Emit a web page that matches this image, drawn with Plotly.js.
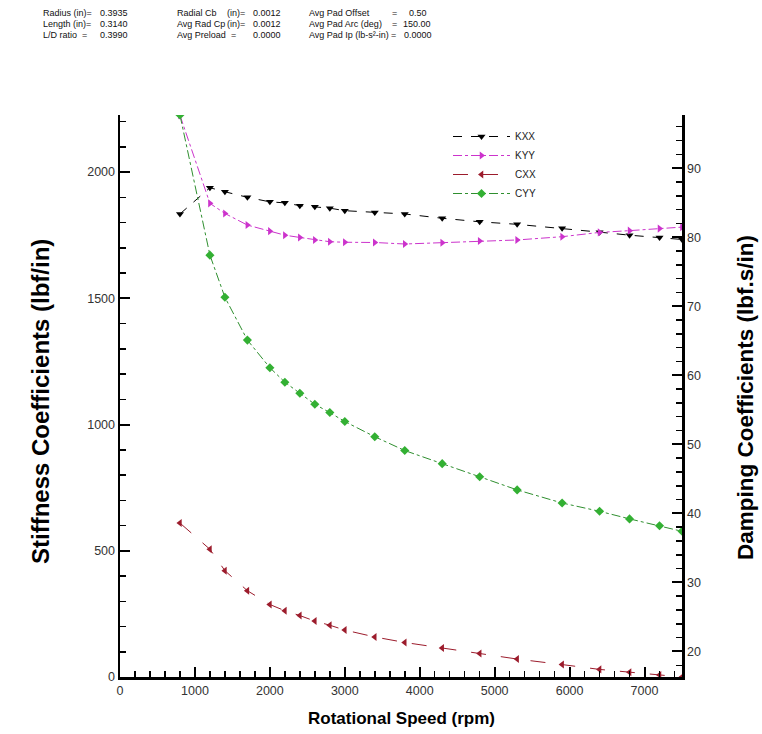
<!DOCTYPE html>
<html>
<head>
<meta charset="utf-8">
<script src="https://cdn.plot.ly/plotly-3.0.1.min.js"></script>
<style>html,body{margin:0;padding:0;background:#fff;}#chart{width:762px;height:734px;}</style>
</head>
<body>
<div id="chart"></div>
<script>
// Rotational speed (rpm)
const speed = [800,1200,1400,1700,2000,2200,2400,2600,2800,3000,3400,3800,4300,4800,5300,5900,6400,6800,7200,7500];
// Stiffness coefficients (lbf/in)
const kxx = [1834,1938,1922,1900,1882,1878,1867,1863,1857,1847,1840,1834,1817,1803,1793,1777,1762,1750,1741,1733];
const kyy = [2225,1876,1836,1790,1766,1750,1741,1731,1724,1722,1721,1715,1720,1727,1731,1744,1761,1768,1776,1782];
// Damping coefficients (lbf.s/in)
const cxx = [38.6,34.8,31.7,28.8,26.8,25.9,25.2,24.4,23.8,23.1,22.1,21.3,20.5,19.7,18.9,18.1,17.4,17.0,16.6,16.3];
const cyy = [97.7,77.4,71.3,65.1,61.1,59.0,57.4,55.8,54.6,53.3,51.1,49.1,47.2,45.3,43.4,41.5,40.3,39.2,38.2,37.4];

const seriesNames = ["KXX","KYY","CXX","CYY"];

const headNames = [
  ["Radius (in)=", "Length (in)=", "L/D ratio"],
  ["Radial Cb", "Avg Rad Cp", "Avg Preload"],
  ["Avg Pad Offset", "Avg Pad Arc (deg)", "Avg Pad Ip (lb-s\u00b2-in)"]
];
const headEq = [
  ["", "", "="],
  ["(in)=", "(in)=", "="],
  ["=", "=", "="]
];
const headValues = [
  ["0.3935", "0.3140", "0.3990"],
  ["0.0012", "0.0012", "0.0000"],
  ["0.50", "150.00", "0.0000"]
];

const L = 120, T = 115, W = 562, H = 562;
const px = x => (x - L) / W;
const py = y => (T + H - y) / H;

const FONT = "Liberation Sans, Arial, sans-serif";

const traces = [
  {x: speed, y: kxx, name: seriesNames[0], yaxis: "y", mode: "lines+markers",
   line: {color: "#000000", width: 1, dash: "dash"},
   marker: {symbol: "triangle-down", size: 7, color: "#000000"}},
  {x: speed, y: kyy, name: seriesNames[1], yaxis: "y", mode: "lines+markers",
   line: {color: "#cc33cc", width: 1, dash: "dashdot"},
   marker: {symbol: "triangle-right", size: 7, color: "#cc33cc"}},
  {x: speed, y: cxx, name: seriesNames[2], yaxis: "y2", mode: "lines+markers",
   line: {color: "#9c1c2c", width: 1, dash: "longdash"},
   marker: {symbol: "triangle-left", size: 7, color: "#9c1c2c"}},
  {x: speed, y: cyy, name: seriesNames[3], yaxis: "y2", mode: "lines+markers",
   line: {color: "#2f8f2f", width: 1, dash: "dashdot"},
   marker: {symbol: "diamond", size: 7, color: "#33b033"}}
];

const annotations = [];
const nameX = [42, 176, 308];
const eqX = [[0, 0, 88], [246, 246, 237], [398, 398, 397]];
const valX = [[99, 99, 99], [252, 252, 252], [428, 432, 433]];
const valAnchor = ["left", "left", "right"];
const rowY = [13, 24, 35];
const hf = {family: FONT, size: 9, color: "#111"};
for (let c = 0; c < 3; c++) {
  for (let r = 0; r < 3; r++) {
    annotations.push({xref: "paper", yref: "paper", x: px(nameX[c]), y: py(rowY[r]),
      text: headNames[c][r], showarrow: false, xanchor: "left", yanchor: "middle", font: hf, borderpad: 0});
    if (headEq[c][r]) {
      annotations.push({xref: "paper", yref: "paper", x: px(eqX[c][r]), y: py(rowY[r]),
        text: headEq[c][r], showarrow: false, xanchor: "right", yanchor: "middle", font: hf, borderpad: 0});
    }
    annotations.push({xref: "paper", yref: "paper", x: px(valX[c][r]), y: py(rowY[r]),
      text: headValues[c][r], showarrow: false, xanchor: valAnchor[c], yanchor: "middle", font: hf, borderpad: 0});
  }
}

annotations.push({xref: "paper", yref: "paper", x: px(40), y: py(401), textangle: -90,
  text: "<b>Stiffness Coefficients (lbf/in)</b>", showarrow: false, xanchor: "center", yanchor: "middle",
  font: {family: FONT, size: 24, color: "#000"}});
annotations.push({xref: "paper", yref: "paper", x: px(745), y: py(398), textangle: -90,
  text: "<b>Damping Coefficients (lbf.s/in)</b>", showarrow: false, xanchor: "center", yanchor: "middle",
  font: {family: FONT, size: 22.5, color: "#000"}});
annotations.push({xref: "paper", yref: "paper", x: px(401), y: py(718),
  text: "<b>Rotational Speed (rpm)</b>", showarrow: false, xanchor: "center", yanchor: "middle",
  font: {family: FONT, size: 17, color: "#000"}});

const axisCommon = {
  showgrid: false, zeroline: false, showline: true, linecolor: "#000", linewidth: 2.5,
  ticks: "inside", ticklen: 10, tickwidth: 2, tickcolor: "#000",
  tickfont: {family: FONT, size: 12.5, color: "#333"}
};

const layout = {
  width: 762, height: 734,
  margin: {l: L, r: 762 - L - W, t: T, b: 734 - T - H, pad: 0},
  paper_bgcolor: "#fff", plot_bgcolor: "#fff",
  showlegend: true,
  legend: {x: px(448), y: py(122), xanchor: "left", yanchor: "top", bgcolor: "rgba(0,0,0,0)",
    font: {family: FONT, size: 10, color: "#222"}, tracegroupgap: 0, itemwidth: 57},
  xaxis: Object.assign({}, axisCommon, {range: [0, 7500], dtick: 1000, tick0: 0,
    minor: {dtick: 200, ticks: "inside", ticklen: 6, tickwidth: 1.5, tickcolor: "#000"}}),
  yaxis: Object.assign({}, axisCommon, {range: [0, 2226], dtick: 500, tick0: 0, side: "left",
    minor: {dtick: 100, ticks: "inside", ticklen: 6, tickwidth: 1.5, tickcolor: "#000"}}),
  yaxis2: Object.assign({}, axisCommon, {range: [16.3, 97.7], dtick: 10, tick0: 0, side: "right",
    overlaying: "y", anchor: "x",
    minor: {dtick: 2, ticks: "inside", ticklen: 6, tickwidth: 1.5, tickcolor: "#000"}}),
  annotations: annotations
};

Plotly.newPlot("chart", traces, layout, {displayModeBar: false, staticPlot: true});
</script>
</body>
</html>
